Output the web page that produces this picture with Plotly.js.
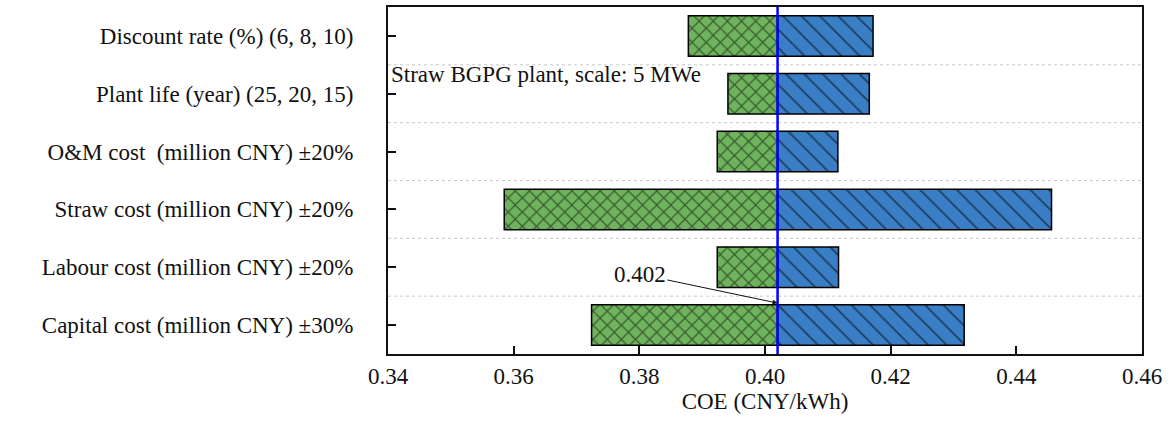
<!DOCTYPE html>
<html>
<head>
<meta charset="utf-8">
<script src="https://cdn.plot.ly/plotly-3.0.1.min.js"></script>
<style>html,body{margin:0;padding:0;background:#fff;}#chart{width:1174px;height:421px;}</style>
</head>
<body>
<div id="chart"></div>
<script>
// Categories, listed top to bottom
const categories = [
  "Discount rate (%) (6, 8, 10)",
  "Plant life (year) (25, 20, 15)",
  "O&M cost  (million CNY) \u00B120%",
  "Straw cost (million CNY) \u00B120%",
  "Labour cost (million CNY) \u00B120%",
  "Capital cost (million CNY) \u00B130%"
];
// COE at the low and high ends of each parameter range (CNY/kWh)
const lowCOE  = [0.3878, 0.3941, 0.3924, 0.3585, 0.3924, 0.3724];
const highCOE = [0.4172, 0.4166, 0.4116, 0.4456, 0.4117, 0.4317];
const baseCOE = 0.402;
const xTickVals = [0.34, 0.36, 0.38, 0.40, 0.42, 0.44, 0.46];
const noteText = "Straw BGPG plant, scale: 5 MWe";
const baseLabel = "0.402";
const xTitle = "COE (CNY/kWh)";

const FONT = "'Liberation Serif', 'Times New Roman', serif";
const FS = 23;

const greenTrace = {
  type: "bar", orientation: "h",
  y: categories,
  x: lowCOE.map(v => v - baseCOE),
  base: baseCOE,
  width: 0.7,
  marker: {
    color: "#6fb35d",
    line: {color: "#000", width: 1.5},
    pattern: {shape: "x", fgcolor: "#000", bgcolor: "#6fb35d", size: 10, solidity: 0.22, fillmode: "overlay"}
  },
  hoverinfo: "skip", showlegend: false
};
const blueTrace = {
  type: "bar", orientation: "h",
  y: categories,
  x: highCOE.map(v => v - baseCOE),
  base: baseCOE,
  width: 0.7,
  marker: {
    color: "#3a7ec5",
    line: {color: "#000", width: 1.5},
    pattern: {shape: "\\", fgcolor: "#000", bgcolor: "#3a7ec5", size: 13, solidity: 0.14, fillmode: "overlay"}
  },
  hoverinfo: "skip", showlegend: false
};

const gridShapes = [];
for (let i = 0; i < categories.length - 1; i++) {
  gridShapes.push({
    type: "line", xref: "paper", x0: 0, x1: 1, yref: "y", y0: i + 0.5, y1: i + 0.5,
    line: {color: "#c8c8c8", width: 1, dash: "dot"}, layer: "below"
  });
}
gridShapes.push({
  type: "line", xref: "x", x0: baseCOE, x1: baseCOE, yref: "paper", y0: 0, y1: 1,
  line: {color: "#0000ff", width: 2.5}, layer: "above"
});

const layout = {
  width: 1174, height: 421,
  margin: {l: 388, r: 32, t: 7, b: 67},
  paper_bgcolor: "#fff", plot_bgcolor: "#fff",
  barmode: "overlay",
  font: {family: FONT, size: FS, color: "#111"},
  xaxis: {
    range: [0.34, 0.46],
    tickvals: xTickVals,
    tickformat: ".2f",
    ticks: "inside", ticklen: 8, tickwidth: 2, tickcolor: "#111",
    showline: true, linecolor: "#111", linewidth: 2, mirror: true,
    showgrid: false, zeroline: false,
    tickfont: {family: FONT, size: FS, color: "#111"},
    title: {text: xTitle, font: {family: FONT, size: FS, color: "#111"}, standoff: 4}
  },
  yaxis: {
    type: "category",
    categoryorder: "array", categoryarray: categories,
    range: [5.5, -0.5],
    ticks: "inside", ticklen: 8, tickwidth: 2, tickcolor: "#111",
    showline: true, linecolor: "#111", linewidth: 2, mirror: true,
    showgrid: false, zeroline: false,
    ticklabelstandoff: 28,
    tickfont: {family: FONT, size: FS, color: "#111"}
  },
  shapes: gridShapes,
  annotations: [
    {
      xref: "x", yref: "y", x: 0.3402, y: 0.66, xanchor: "left", yanchor: "middle",
      text: noteText, showarrow: false, font: {family: FONT, size: FS, color: "#111"}
    },
    {
      xref: "x", yref: "y", x: baseCOE, y: 4.62,
      axref: "x", ayref: "y", ax: 0.3801, ay: 4.12,
      text: baseLabel, showarrow: true, arrowhead: 2, arrowsize: 1, arrowwidth: 1,
      arrowcolor: "#111", standoff: 0,
      font: {family: FONT, size: FS, color: "#111"}
    }
  ]
};

Plotly.newPlot("chart", [greenTrace, blueTrace], layout, {displayModeBar: false, staticPlot: true});
</script>
</body>
</html>
